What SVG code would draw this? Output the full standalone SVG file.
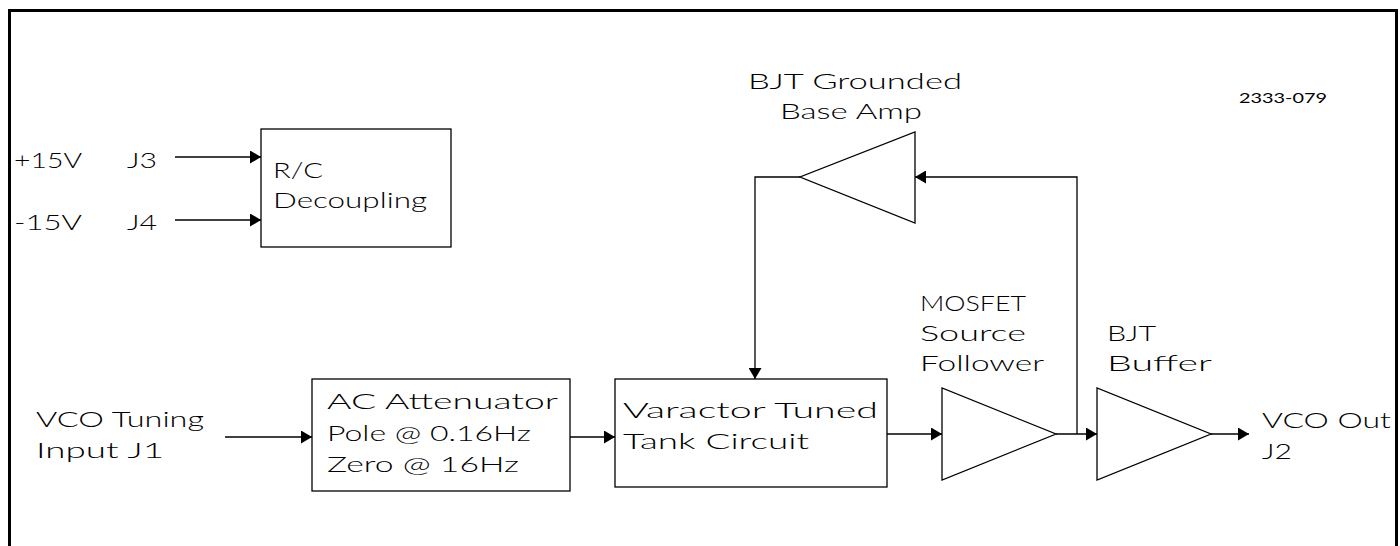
<svg xmlns="http://www.w3.org/2000/svg" width="1400" height="546" viewBox="0 0 1400 546">
<style>
text{font-family:Lato,"Liberation Sans",sans-serif;font-weight:300;font-size:21px;fill:#000}
.small{font-size:13px;font-weight:400}
.box{fill:#fff;stroke:#000;stroke-width:1.3}
.wire{fill:none;stroke:#000;stroke-width:1.3}
.frame{fill:none;stroke:#000;stroke-width:3}
</style>
<defs>
<marker id="ah" markerWidth="12" markerHeight="13" refX="11" refY="6.5" orient="auto" markerUnits="userSpaceOnUse">
<path d="M0,0 L11,6.5 L0,13 z" fill="#000"/>
</marker>
</defs>
<rect width="1400" height="546" fill="#fff"/>
<path class="frame" d="M9.5,546 V10.5 H1396.5 V546"/>
<g id="connectors">
<line class="wire" x1="175" y1="157" x2="261" y2="157" marker-end="url(#ah)"/>
<line class="wire" x1="175" y1="220" x2="261" y2="220" marker-end="url(#ah)"/>
<line class="wire" x1="225" y1="437" x2="312" y2="437" marker-end="url(#ah)"/>
<line class="wire" x1="570" y1="437" x2="615" y2="437" marker-end="url(#ah)"/>
<line class="wire" x1="887" y1="434" x2="942" y2="434" marker-end="url(#ah)"/>
<line class="wire" x1="1056" y1="434" x2="1097" y2="434" marker-end="url(#ah)"/>
<line class="wire" x1="1211" y1="434" x2="1249" y2="434" marker-end="url(#ah)"/>
<polyline class="wire" points="1077,434 1077,177 915,177" marker-end="url(#ah)"/>
<polyline class="wire" points="800,177 755,177 755,379" marker-end="url(#ah)"/>
</g>
<g id="inputs-power">
<text x="14" y="168" textLength="68" lengthAdjust="spacingAndGlyphs">+15V</text>
<text x="127" y="168" textLength="30" lengthAdjust="spacingAndGlyphs">J3</text>
<text x="14" y="230" textLength="68" lengthAdjust="spacingAndGlyphs">-15V</text>
<text x="127" y="230" textLength="30" lengthAdjust="spacingAndGlyphs">J4</text>
</g>
<g id="rc-decoupling">
<rect class="box" x="261" y="129" width="190" height="118"/>
<text x="273" y="178" textLength="50" lengthAdjust="spacingAndGlyphs">R/C</text>
<text x="273" y="208" textLength="154" lengthAdjust="spacingAndGlyphs">Decoupling</text>
</g>
<g id="bjt-grounded-base">
<polygon class="box" points="915,132 915,223 800,177"/>
<text x="748" y="89" textLength="214" lengthAdjust="spacingAndGlyphs">BJT Grounded</text>
<text x="780" y="119" textLength="142" lengthAdjust="spacingAndGlyphs">Base Amp</text>
</g>
<g id="drawing-number">
<text class="small" x="1239" y="103" textLength="88" lengthAdjust="spacingAndGlyphs">2333-079</text>
</g>
<g id="vco-input">
<text x="36" y="427" textLength="168" lengthAdjust="spacingAndGlyphs">VCO Tuning</text>
<text x="36" y="458" textLength="128" lengthAdjust="spacingAndGlyphs">Input J1</text>
</g>
<g id="ac-attenuator">
<rect class="box" x="312" y="379" width="258" height="112"/>
<text x="327" y="409" textLength="231" lengthAdjust="spacingAndGlyphs">AC Attenuator</text>
<text x="327" y="441" textLength="204" lengthAdjust="spacingAndGlyphs">Pole @ 0.16Hz</text>
<text x="327" y="472" textLength="192" lengthAdjust="spacingAndGlyphs">Zero @ 16Hz</text>
</g>
<g id="varactor-tank">
<rect class="box" x="615" y="379" width="272" height="108"/>
<text x="623" y="418" textLength="255" lengthAdjust="spacingAndGlyphs">Varactor Tuned</text>
<text x="623" y="449" textLength="186" lengthAdjust="spacingAndGlyphs">Tank Circuit</text>
</g>
<g id="mosfet-follower">
<polygon class="box" points="942,388 942,480 1056,434"/>
<text x="920" y="311" textLength="106" lengthAdjust="spacingAndGlyphs">MOSFET</text>
<text x="920" y="341" textLength="106" lengthAdjust="spacingAndGlyphs">Source</text>
<text x="920" y="371" textLength="124" lengthAdjust="spacingAndGlyphs">Follower</text>
</g>
<g id="bjt-buffer">
<polygon class="box" points="1097,388 1097,480 1211,434"/>
<text x="1107" y="341" textLength="49" lengthAdjust="spacingAndGlyphs">BJT</text>
<text x="1107" y="371" textLength="105" lengthAdjust="spacingAndGlyphs">Buffer</text>
</g>
<g id="vco-out">
<text x="1262" y="428" textLength="129" lengthAdjust="spacingAndGlyphs">VCO Out</text>
<text x="1262" y="459" textLength="30" lengthAdjust="spacingAndGlyphs">J2</text>
</g>
</svg>
